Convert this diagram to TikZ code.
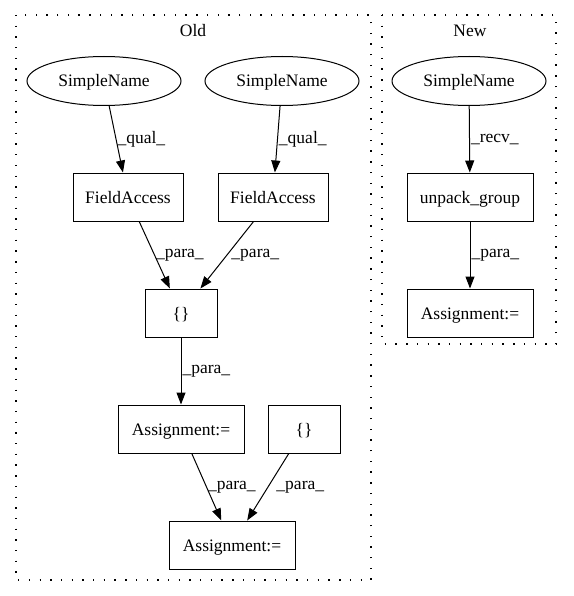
\documentclass[tikz,border=0pt]{standalone}
\usepackage{fontspec}
\setmainfont{Liberation Serif}
\usetikzlibrary{arrows.meta,shapes.geometric}
\tikzset{%
  astnode/.style = {shape=rectangle, draw, line width=1pt,%
                    minimum height=48pt, inner sep=0pt,%
                    text height=12pt, text depth=0pt},%
  simple/.style  = {astnode, ellipse, minimum width=154pt, minimum height=49pt},%
  cluster/.style = {draw, line width=1.2pt, dash pattern=on 1.4pt off 9.3pt},%
  elabel/.style  = {anchor=west, inner sep=1pt}%
}

\begin{document}
\begin{tikzpicture}
              [x=1pt, y=-1pt, line width=1pt, >={Triangle[length=12pt,width=9pt]},
               every node/.style={font=\fontsize{17.5}{20}\selectfont}]
              \useasboundingbox (0,0) rectangle (573,596);
              % -------------- OLD -----------------------------
              \draw[cluster] (16,15) rectangle (371,580);
              \node (old) at (193,31) {Old};
              \node[simple] (snA) at (104,81) {SimpleName};
              \node[simple] (snB) at (282,81) {SimpleName};
              \node[astnode, minimum width=110pt] (faA) at (128,197) {FieldAccess};
              \node[astnode, minimum width=110pt] (faB) at (273,197) {FieldAccess};
              \node[astnode, minimum width=72pt] (brA) at (181,313) {\{\}};
              \node[astnode, minimum width=126pt] (asgA) at (181,429) {Assignment:=};
              \node[astnode, minimum width=72pt] (brB) at (304,429) {\{\}};
              \node[astnode, minimum width=126pt] (asgB) at (232,545) {Assignment:=};
              \draw[->] (snA) -- (faA) node[elabel, midway] {\_qual\_};
              \draw[->] (snB) -- (faB) node[elabel, midway] {\_qual\_};
              \draw[->] (faA) -- (brA) node[elabel, midway] {\_para\_};
              \draw[->] (faB) -- (brA) node[elabel, midway, xshift=3pt] {\_para\_};
              \draw[->] (brA) -- (asgA) node[elabel, midway] {\_para\_};
              \draw[->] (asgA) -- (asgB) node[elabel, midway] {\_para\_};
              \draw[->] (brB) -- (asgB) node[elabel, midway, xshift=7pt] {\_para\_};
              % -------------- NEW -----------------------------
              \draw[cluster] (382,15) rectangle (556,344);
              \node (new) at (470,31) {New};
              \node[simple] (snC) at (469,81) {SimpleName};
              \node[astnode, minimum width=126pt] (unpack) at (470,197) {unpack\_group};
              \node[astnode, minimum width=126pt] (asgC) at (470,313) {Assignment:=};
              \draw[->] (snC) -- (unpack) node[elabel, midway] {\_recv\_};
              \draw[->] (unpack) -- (asgC) node[elabel, midway] {\_para\_};
\end{tikzpicture}
\end{document}
